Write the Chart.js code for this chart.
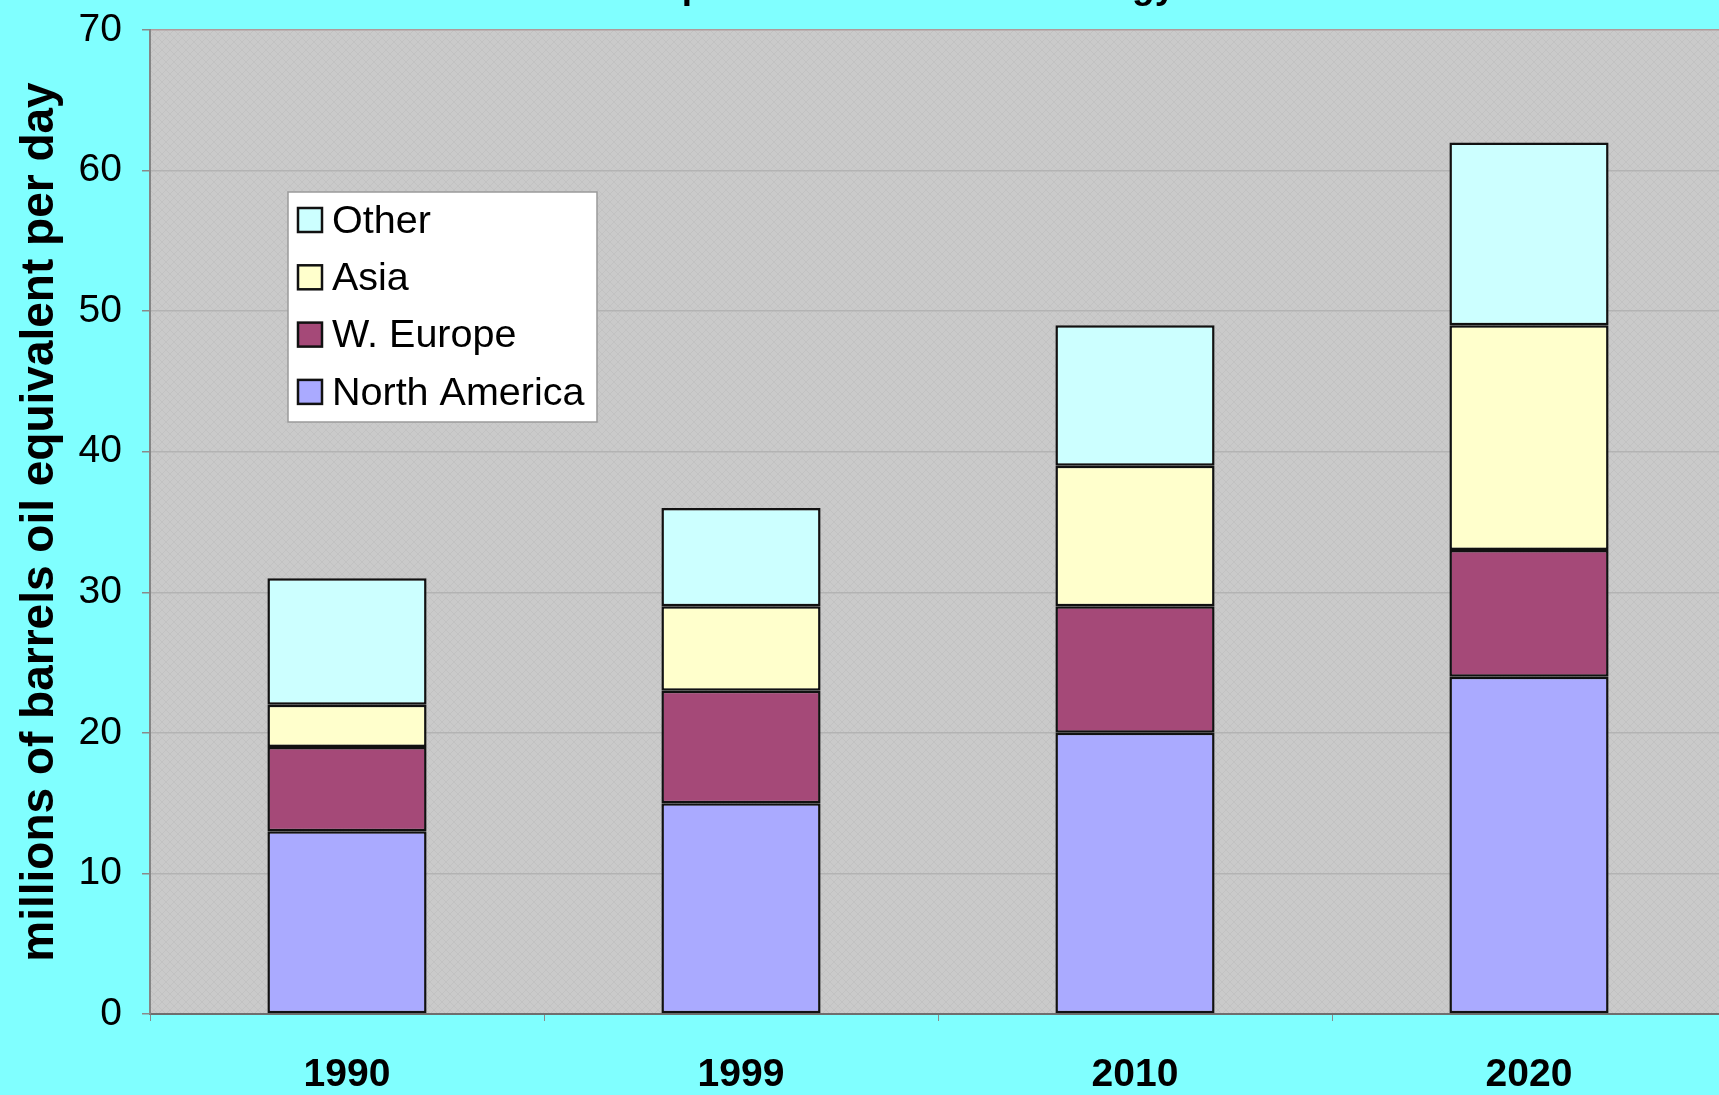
<!DOCTYPE html>
<html><head><meta charset="utf-8">
<script src="https://cdn.jsdelivr.net/npm/chart.js@4.4.1/dist/chart.umd.min.js"></script>
<style>
html,body{margin:0;padding:0;background:#80ffff;overflow:hidden;width:1719px;height:1095px}
canvas{display:block}
</style>
</head><body>
<canvas id="c" width="1726" height="1095"></canvas>
<script>
// ---- data ----
const chartTitle = "Consumption of Commercial Energy";
const yAxisTitle = "millions of barrels oil equivalent per day";
const categories = ["1990", "1999", "2010", "2020"];
const seriesNames = ["North America", "W. Europe", "Asia", "Other"];
const northAmerica = [13, 15, 20, 24];
const wEurope = [6, 8, 9, 9];
const asia = [3, 6, 10, 16];
const other = [9, 7, 10, 13];
const yMin = 0, yMax = 70, yStep = 10;

// ---- styles ----
const seriesColors = ["#aaaaff", "#a54978", "#ffffcc", "#ccffff"];
const FONT = "'Liberation Sans', Arial, sans-serif";

function makePattern(ctx) {
  const t = document.createElement('canvas');
  t.width = 8; t.height = 8;
  const g = t.getContext('2d');
  g.fillStyle = '#cacaca';
  g.fillRect(0, 0, 8, 8);
  g.fillStyle = '#c2c2c2';
  for (let i = 0; i < 8; i++) {
    g.fillRect(i, i, 1, 1);
    g.fillRect(7 - i, (i + 4) % 8, 1, 1);
  }
  return ctx.createPattern(t, 'repeat');
}

const plotBg = {
  id: 'plotBg',
  beforeDraw(chart) {
    const {ctx, chartArea: a} = chart;
    ctx.save();
    ctx.fillStyle = makePattern(ctx);
    ctx.fillRect(a.left, a.top, a.right - a.left, a.bottom - a.top);
    ctx.restore();
  }
};

const boxLegend = {
  id: 'boxLegend',
  afterDraw(chart) {
    const {ctx, chartArea: a} = chart;
    const x = a.left + 138, y = a.top + 162, w = 309, h = 230;
    ctx.save();
    ctx.fillStyle = '#ffffff';
    ctx.fillRect(x, y, w, h);
    ctx.strokeStyle = '#9a9a9a';
    ctx.lineWidth = 1.5;
    ctx.strokeRect(x, y, w, h);
    const ds = chart.data.datasets.slice().reverse();
    ctx.font = "39.5px " + FONT;
    ctx.textBaseline = 'middle';
    ds.forEach((d, i) => {
      const cy = y + 28 + i * 57.3;
      ctx.fillStyle = d.backgroundColor;
      ctx.fillRect(x + 10, cy - 12, 24, 24);
      ctx.strokeStyle = '#111';
      ctx.lineWidth = 2.5;
      ctx.strokeRect(x + 10, cy - 12, 24, 24);
      ctx.fillStyle = '#000';
      ctx.fillText(d.label, x + 44, cy + 2);
    });
    ctx.restore();
  }
};

const cutTitle = {
  id: 'cutTitle',
  afterDraw(chart) {
    const {ctx} = chart;
    ctx.save();
    ctx.font = "bold 37px " + FONT;
    ctx.fillStyle = '#000';
    ctx.textAlign = 'center';
    ctx.textBaseline = 'alphabetic';
    ctx.fillText(chartTitle, window.innerWidth / 2 - 5, -2);
    ctx.restore();
  }
};

const values = [northAmerica, wEurope, asia, other];
new Chart(document.getElementById('c'), {
  type: 'bar',
  data: {
    labels: categories,
    datasets: seriesNames.map((n, i) => ({
      label: n,
      data: values[i],
      backgroundColor: seriesColors[i],
      borderColor: '#111',
      borderWidth: 2.5,
      borderSkipped: false,
      barPercentage: 0.404,
      categoryPercentage: 1.0
    }))
  },
  options: {
    responsive: false,
    devicePixelRatio: 1,
    animation: false,
    layout: {padding: {top: 30, right: 0, left: 0, bottom: 0}},
    plugins: {legend: {display: false}, title: {display: false}, tooltip: {enabled: false}},
    scales: {
      x: {
        stacked: true,
        offset: true,
        grid: {display: true, drawOnChartArea: false, drawTicks: true, tickLength: 7, color: '#8a8a8a', offset: true},
        border: {display: true, color: '#6e6e6e', width: 2},
        ticks: {color: '#000', font: {family: FONT, size: 39, weight: 'bold'}, padding: 31, maxRotation: 0},
        afterFit(s) { s.height = 81; s.paddingLeft = 0; s.paddingRight = 0; }
      },
      y: {
        stacked: true,
        min: yMin, max: yMax,
        ticks: {stepSize: yStep, color: '#000', font: {family: FONT, size: 39}, padding: 20},
        grid: {color: (c) => c.tick && c.tick.value === yMax ? '#b09a9a' : '#b3b3b3', lineWidth: 1.5, tickLength: 8, tickColor: '#8a8a8a'},
        border: {display: true, color: '#858585', width: 2},
        title: {display: true, text: yAxisTitle, color: '#000', font: {family: FONT, size: 46, weight: 'bold'}, padding: {top: 13, bottom: 0}},
        afterFit(s) { s.width = 150; s.paddingTop = 0; s.paddingBottom = 0; }
      }
    }
  },
  plugins: [plotBg, boxLegend, cutTitle]
});
</script>
</body></html>
